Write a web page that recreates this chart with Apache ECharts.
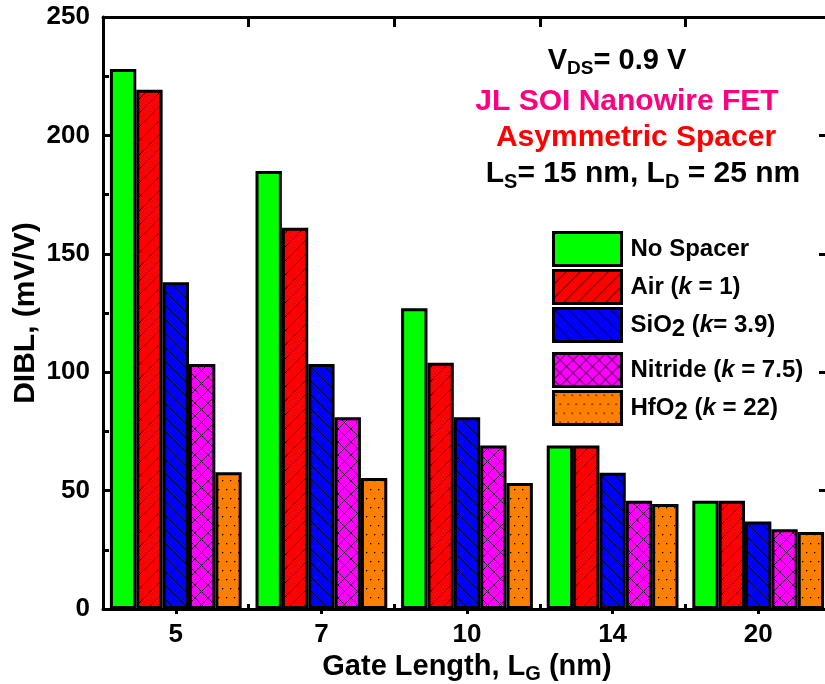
<!DOCTYPE html>
<html>
<head>
<meta charset="utf-8">
<script src="https://cdn.jsdelivr.net/npm/echarts@6/dist/echarts.min.js"></script>
<style>
  html, body { margin: 0; padding: 0; background: #fff; }
  #chart { width: 825px; height: 684px; }
</style>
</head>
<body>
<div id="chart"></div>
<script>
// Gate lengths (nm) on the category axis
const gateLengths = ['5', '7', '10', '14', '20'];
const yTicks = [0, 50, 100, 150, 200, 250];

// DIBL (mV/V) per spacer dielectric
const noSpacer = [228, 185, 127, 69, 45.7];
const airSpacer = [219.3, 161, 104, 69, 45.7];
const sio2Spacer = [138, 103.5, 81, 57.5, 37];
const nitrideSpacer = [103.5, 81, 69, 45.7, 33.7];
const hfo2Spacer = [57.8, 55.3, 53.2, 44.3, 32.5];

const seriesNames = ['No Spacer', 'Air (k = 1)', 'SiO2 (k= 3.9)', 'Nitride (k = 7.5)', 'HfO2 (k = 22)'];
const legendRich = {
  'No Spacer': 'No Spacer',
  'Air (k = 1)': 'Air ({it|k} = 1)',
  'SiO2 (k= 3.9)': 'SiO{sub|2} ({it|k}= 3.9)',
  'Nitride (k = 7.5)': 'Nitride ({it|k} = 7.5)',
  'HfO2 (k = 22)': 'HfO{sub|2} ({it|k} = 22)'
};

const FONT = '"Liberation Sans", Arial, sans-serif';

// Fill patterns drawn on small tiles
function tile(w, h, bg, draw) {
  const c = document.createElement('canvas');
  c.width = w; c.height = h;
  const g = c.getContext('2d');
  g.fillStyle = bg;
  g.fillRect(0, 0, w, h);
  g.strokeStyle = '#000';
  g.fillStyle = '#000';
  g.lineWidth = 0.9;
  draw(g, w, h);
  return { image: c, repeat: 'repeat' };
}
function line(g, x1, y1, x2, y2) {
  g.beginPath(); g.moveTo(x1, y1); g.lineTo(x2, y2); g.stroke();
}
const S = 14;
const fwdHatch = (g, s) => { line(g, -2, s + 2, s + 2, -2); };
const backHatch = (g, s) => { line(g, -2, -2, s + 2, s + 2); };

const fills = [
  '#00ff00',
  tile(S, S, '#ff0000', g => fwdHatch(g, S)),
  tile(S, S, '#0000ff', g => backHatch(g, S)),
  tile(13, 13, '#ff00ff', g => { fwdHatch(g, 13); backHatch(g, 13); }),
  tile(8, 18, '#ff8000', g => { g.fillRect(2, 3, 1.3, 1.3); g.fillRect(6, 12, 1.3, 1.3); })
];

const dataSets = [noSpacer, airSpacer, sio2Spacer, nitrideSpacer, hfo2Spacer];

const chart = echarts.init(document.getElementById('chart'), null, { renderer: 'canvas' });

const tickStyle = { color: '#000', width: 3 };
const hiddenLine = { show: false };

const legendText = {
  color: '#000', fontFamily: FONT, fontWeight: 'bold', fontSize: 24, lineHeight: 33,
  padding: [0, 0, 0, 4],
  rich: {
    it: { fontFamily: FONT, fontWeight: 'bold', fontStyle: 'italic', fontSize: 24, color: '#000', lineHeight: 33 },
    sub: { fontFamily: FONT, fontWeight: 'bold', fontSize: 24, color: '#000', lineHeight: 10, verticalAlign: 'bottom' }
  }
};

const option = {
  animation: false,
  backgroundColor: '#fff',
  grid: { left: 103, right: -6, top: 17, bottom: 75, containLabel: false, outerBoundsMode: 'none' },
  xAxis: [
    {
      type: 'category', data: gateLengths, position: 'bottom',
      axisLine: { show: true, onZero: false, lineStyle: { color: '#000', width: 3 } },
      axisTick: { show: true, inside: true, alignWithLabel: true, length: 10, lineStyle: tickStyle },
      axisLabel: { color: '#000', fontFamily: FONT, fontWeight: 'bold', fontSize: 26, margin: 13 },
      name: 'Gate Length, L{sub|G} (nm)',
      nameLocation: 'middle', nameGap: 36,
      nameTextStyle: {
        color: '#000', fontFamily: FONT, fontWeight: 'bold', fontSize: 29,
        rich: { sub: { fontFamily: FONT, fontWeight: 'bold', fontSize: 20, color: '#000', verticalAlign: 'bottom', padding: [14, 0, 0, 0] } }
      }
    },
    {
      type: 'category', data: gateLengths, position: 'bottom',
      axisLine: hiddenLine,
      axisTick: { show: true, inside: true, alignWithLabel: false, length: 5, lineStyle: tickStyle },
      axisLabel: { show: false }
    },
    {
      type: 'category', data: gateLengths, position: 'top',
      axisLine: { show: true, onZero: false, lineStyle: { color: '#000', width: 3 } },
      axisTick: { show: true, inside: true, alignWithLabel: false, length: 10, lineStyle: tickStyle },
      axisLabel: { show: false }
    },
    {
      type: 'category', data: gateLengths, position: 'top',
      axisLine: hiddenLine,
      axisTick: { show: true, inside: true, alignWithLabel: true, length: 5, lineStyle: tickStyle },
      axisLabel: { show: false }
    }
  ],
  yAxis: [
    {
      type: 'value', min: yTicks[0], max: yTicks[yTicks.length - 1], interval: 50, position: 'left',
      axisLine: { show: true, onZero: false, lineStyle: { color: '#000', width: 3 } },
      axisTick: { show: true, inside: true, length: 12, lineStyle: tickStyle },
      minorTick: { show: true, splitNumber: 2, length: 6, lineStyle: tickStyle },
      splitLine: { show: false },
      axisLabel: { color: '#000', fontFamily: FONT, fontWeight: 'bold', fontSize: 26, margin: 13 },
      name: 'DIBL, (mV/V)', nameLocation: 'middle', nameGap: 62, nameRotate: 90,
      nameMoveOverlap: false,
      nameTextStyle: { color: '#000', fontFamily: FONT, fontWeight: 'bold', fontSize: 30 }
    },
    {
      type: 'value', min: yTicks[0], max: yTicks[yTicks.length - 1], interval: 50, position: 'right',
      axisLine: { show: true, onZero: false, lineStyle: { color: '#000', width: 3 } },
      axisTick: { show: true, inside: true, length: 12, lineStyle: tickStyle },
      minorTick: { show: true, splitNumber: 2, length: 6, lineStyle: tickStyle },
      splitLine: { show: false },
      axisLabel: { show: false }
    }
  ],
  legend: [
    {
      data: seriesNames.slice(0, 3), orient: 'vertical', left: 552, top: 231,
      itemWidth: 68, itemHeight: 33, itemGap: 2, icon: 'rect', padding: 0,
      itemStyle: { borderColor: '#000', borderWidth: 3 },
      formatter: n => legendRich[n],
      textStyle: legendText
    },
    {
      data: seriesNames.slice(3), orient: 'vertical', left: 552, top: 352,
      itemWidth: 68, itemHeight: 33, itemGap: 2, icon: 'rect', padding: 0,
      itemStyle: { borderColor: '#000', borderWidth: 3 },
      formatter: n => legendRich[n],
      textStyle: legendText
    }
  ],
  series: dataSets.map((d, i) => ({
    type: 'bar',
    name: seriesNames[i],
    xAxisIndex: 0, yAxisIndex: 0,
    data: d,
    barGap: '0%',
    barCategoryGap: '9.5%',
    itemStyle: { color: fills[i], borderColor: '#000', borderWidth: 3 },
    emphasis: { disabled: true }
  })),
  graphic: [
    {
      type: 'text', x: 617, y: 61,
      style: {
        text: 'V{sub|DS}= 0.9 V', align: 'center', verticalAlign: 'middle',
        font: 'bold 29px ' + FONT, fill: '#000',
        rich: { sub: { font: 'bold 19px ' + FONT, fill: '#000', padding: [16, 0, 0, 0] } }
      }
    },
    {
      type: 'text', x: 627, y: 102,
      style: { text: 'JL SOI Nanowire FET', align: 'center', verticalAlign: 'middle', font: 'bold 30px ' + FONT, fill: '#ff0080' }
    },
    {
      type: 'text', x: 636, y: 138,
      style: { text: 'Asymmetric Spacer', align: 'center', verticalAlign: 'middle', font: 'bold 30px ' + FONT, fill: '#ff0000' }
    },
    {
      type: 'text', x: 643, y: 174,
      style: {
        text: 'L{sub|S}= 15 nm, L{sub|D} = 25 nm', align: 'center', verticalAlign: 'middle',
        font: 'bold 30px ' + FONT, fill: '#000',
        rich: { sub: { font: 'bold 20px ' + FONT, fill: '#000', padding: [16, 0, 0, 0] } }
      }
    }
  ]
};

chart.setOption(option);
</script>
</body>
</html>
